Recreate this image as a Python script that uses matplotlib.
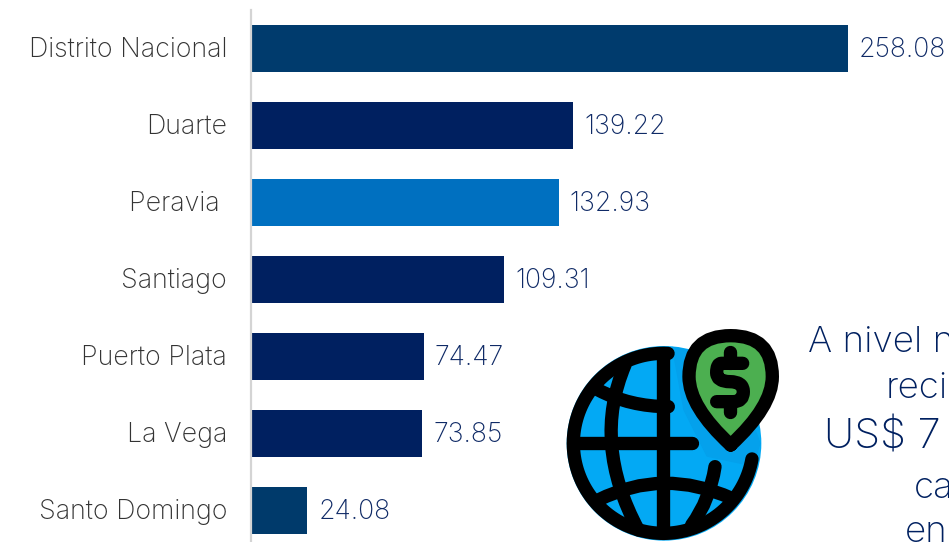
import numpy as np
import matplotlib
matplotlib.use("Agg")
import matplotlib.pyplot as plt
from matplotlib.path import Path
from matplotlib.patches import PathPatch, Circle
from matplotlib.transforms import ScaledTranslation

categories = ["Distrito Nacional", "Duarte", "Peravia ", "Santiago", "Puerto Plata", "La Vega", "Santo Domingo"]
values = [258.08, 139.22, 132.93, 109.31, 74.47, 73.85, 24.08]
bar_colors = ["#003B6D", "#002060", "#0070C0", "#002060", "#002060", "#002060", "#003A6B"]
value_labels = ["258.08", "139.22", "132.93", "109.31", "74.47", "73.85", "24.08"]
note_lines = ["A nivel n", "reci", "US$ 7", "ca", "en"]

W, H = 949, 542
FONT = "Inter"
WT = "light"
fig = plt.figure(figsize=(W / 100, H / 100), dpi=100, facecolor="white")
x0 = 251.5
ax = fig.add_axes([x0 / W, 0, (W - x0) / W, 1])
ax.set_xlim(0, (W - x0) / 2.311)
ax.set_ylim((H - 48.5) / 77, -48.5 / 77)
ypos = np.arange(len(categories))
ax.barh(ypos, values, height=0.622, color=bar_colors)
for s in ["top", "right", "bottom"]:
    ax.spines[s].set_visible(False)
ax.spines["left"].set_color("#D4D4D4")
ax.spines["left"].set_linewidth(1.6)
ax.spines["left"].set_bounds(-38.5 / 77, (H - 48.5) / 77)
ax.xaxis.set_visible(False)
ax.set_yticks(ypos, categories, fontfamily=FONT, fontweight=WT, fontsize=19.3, color="#333333")
ax.tick_params(axis="y", length=0, pad=17.5)
shift = ScaledTranslation(0, 1.5 / 100, fig.dpi_scale_trans)
for lbl in ax.get_yticklabels():
    lbl.set_transform(lbl.get_transform() + shift)
for y, v, t in zip(ypos, values, value_labels):
    ax.annotate(t, (v, y), xytext=(8, -1), textcoords="offset points", va="center", ha="left",
                fontfamily=FONT, fontweight=WT, fontsize=19.2, color="#0F2A66", annotation_clip=False)

# overlay in pixel coordinates for the decorative icon and cut-off note
ov = fig.add_axes([0, 0, 1, 1], facecolor="none")
ov.set_xlim(0, W)
ov.set_ylim(H, 0)
ov.axis("off")
note_x = [808, 886, 824, 914, 905]
note_y = [343, 388, 437, 488, 532]
note_size = [26.5, 26.5, 30, 26.5, 26.5]
for t, x, y, fs in zip(note_lines, note_x, note_y, note_size):
    ov.text(x, y, t, fontfamily=FONT, fontweight=WT, fontsize=fs, color="#002060", va="center", ha="left")

def Z(x, y):
    return (540 + x / 3, 310 + y / 3)

def stroke(verts, codes=None, lw=9.6, fc="none", z=5):
    verts = [Z(*p) for p in verts]
    ov.add_patch(PathPatch(Path(verts, codes), fc=fc, ec="black", lw=lw, capstyle="round",
                           joinstyle="round", zorder=z))

C3 = Path.CURVE3
M = Path.MOVETO
ov.add_patch(Circle(Z(372, 400), 292 / 3, fc="#03A9F4", ec="none", zorder=2))
# slightly darker shade beside the pin
shade = [Z(*p) for p in [(395, 110), (430, 300), (500, 440), (640, 470), (662, 400), (600, 230), (480, 125)]]
ov.fill(*zip(*shade), color="#04A1EC", zorder=3, lw=0)
ang = np.radians(np.linspace(87, 350, 120))
stroke([(370 + 270 * np.cos(a), 400 - 270 * np.sin(a)) for a in ang])
stroke([(370, 128), (370, 670)])
stroke([(100, 400), (455, 400)])
stroke([(255, 165), (155, 400), (295, 660)], [M, C3, C3])
stroke([(525, 470), (510, 570), (455, 645)], [M, C3, C3])
stroke([(175, 240), (270, 290), (385, 290)], [M, C3, C3])
stroke([(175, 570), (370, 472), (575, 565)], [M, C3, C3])
# pin
pin = [(572, 405), (447, 290), (447, 200), (447, 77), (572, 77), (697, 77), (697, 200), (697, 290), (572, 405)]
stroke(pin, [M] + [C3] * 8, fc="#4CAF50", z=6)
# dollar
stroke([(608, 160), (545, 160), (530, 160), (530, 188), (530, 215), (570, 215), (610, 215), (610, 245),
        (610, 275), (580, 275), (530, 275)], [M] + [Path.LINETO] + [C3] * 8 + [Path.LINETO], z=7)
stroke([(570, 125), (570, 160)], z=7)
stroke([(570, 275), (570, 305)], z=7)

fig.savefig("out.png", dpi=100)
